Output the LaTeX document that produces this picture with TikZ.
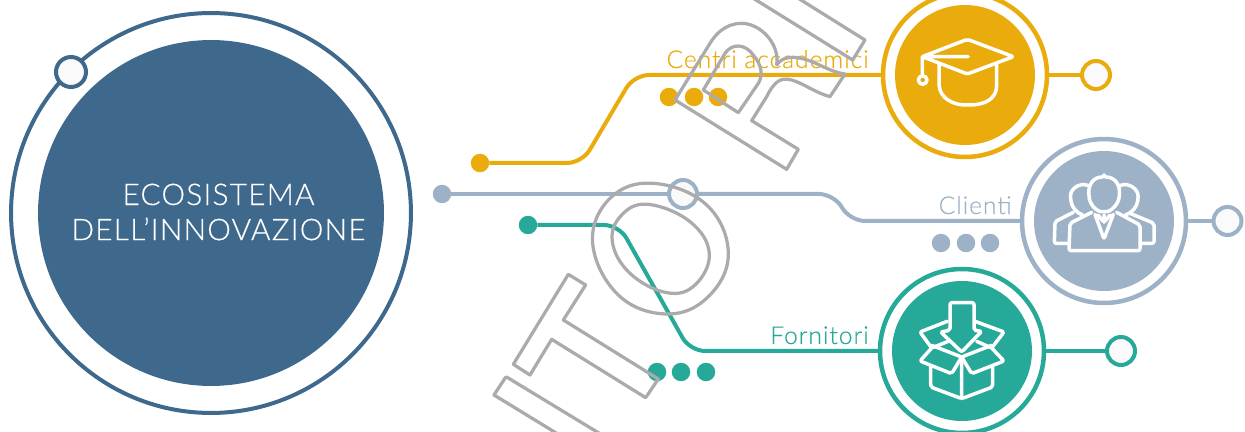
\documentclass[tikz,border=0pt]{standalone}
\usepackage{fontspec}
\setmainfont{Lato Light}[LetterSpace=4,FakeBold=.35]
\usetikzlibrary{calc}
\definecolor{hubblue}{HTML}{3E688C}
\definecolor{yellowline}{HTML}{EAAB0C}
\definecolor{greyline}{HTML}{9DB2C7}
\definecolor{tealline}{HTML}{26A998}
\definecolor{markgrey}{HTML}{ABABAD}
\definecolor{holefill}{HTML}{FAFAFA}
\tikzset{hub/.style={circle,inner sep=0,outer sep=0,minimum size=2.8cm,fill=#1},
ring/.style={circle,inner sep=0,outer sep=0,minimum size=3.28cm,draw=#1,line width=.09cm},
hole/.style={circle,inner sep=0,outer sep=0,minimum size=.56cm,draw=#1,line width=.08cm,fill=holefill},
dot/.style={circle,inner sep=0,outer sep=0,minimum size=.37cm,fill=#1},
link/.style={line width=.08cm,rounded corners=.3cm,draw=#1},
lbl/.style={text=#1,font=\fontsize{14}{16}\selectfont,inner sep=0,anchor=base east},
ico/.style={white,line width=.07cm,line join=round,line cap=round,rounded corners=.04cm},
letterline/.style={markgrey,line width=.065cm,line join=round}}
\begin{document}
\begin{tikzpicture}[x=.02cm,y=-.02cm]
\useasboundingbox (0,0) rectangle (1245,432);
\clip (0,0) rectangle (1245,432);
\node[circle,inner sep=0,outer sep=0,minimum size=8cm,draw=hubblue,line width=.08cm] (mainring) at (211,213){};
\node[circle,inner sep=0,outer sep=0,minimum size=6.92cm,fill=hubblue] (main) at (211,213){};
\node[text=white,align=center,font=\fontsize{17}{20}\selectfont,inner sep=0] (maintext) at (218.5,212){ECOSISTEMA\\DELL’INNOVAZIONE};
\node[hole=hubblue,minimum size=.6cm] (mainhole) at (71,72){};
\foreach \n/\c/\x/\y in {acad/yellowline/965/75,cli/greyline/1104/221,forn/tealline/962/351}{
\node[ring=\c] (ring\n) at (\x,\y){};\node[hub=\c] (hub\n) at (\x,\y){};}
\node[hole=yellowline] (endacad) at (1096,75){};\node[hole=greyline] (endcli) at (1227.5,221){};\node[hole=tealline] (endforn) at (1121,351){};
\node[dot=yellowline] (startacad) at (480,163){};\node[dot=greyline] (startcli) at (442,194){};\node[dot=tealline] (startforn) at (528,225){};
\node[hole=greyline] (midcli) at (683,194){};
\foreach \x in {669,694,718}{\node[dot=yellowline] (a\x) at (\x,97){};}
\foreach \x in {941,966,990}{\node[dot=greyline] (c\x) at (\x,243){};}
\foreach \x in {657,681,706}{\node[dot=tealline] (f\x) at (\x,372){};}
\coordinate (acadA) at (582,163);\coordinate (acadB) at (634,75);
\coordinate (cliA) at (834,194);\coordinate (cliB) at (850,221);
\coordinate (fornA) at (619,225);\coordinate (fornB) at (690,351);
\draw[link=yellowline] (startacad)--(acadA)--(acadB)--(ringacad);
\draw[link=yellowline] (ringacad)--(endacad);
\draw[link=greyline] (startcli)--(midcli);
\draw[link=greyline] (midcli)--(cliA)--(cliB)--(ringcli.west);
\draw[link=greyline] (ringcli)--(endcli);
\draw[link=tealline] (startforn)--(fornA)--(fornB)--(ringforn.west);
\draw[link=tealline] (ringforn)--(endforn);
\node[lbl=yellowline] (lblacad) at (869,68){Centri accademici};
\node[lbl=greyline] (lblcli) at (1012,214){Clienti};
\node[lbl=tealline] (lblforn) at (869,344){Fornitori};
% cap
\begin{scope}[shift={(880,0)},x=.00667cm,y=-.00667cm]
\draw[ico] (262,118)--(400,170)--(262,222)--(127,170)--cycle (127,170)--(265,170) (127,170)--(127,228);
\draw[ico] (128,240) circle[radius=13];
\draw[ico] (177,192)--(177,250)..controls (180,295) and (220,315)..(262,315)..controls (310,315) and (350,300)..(350,250)--(350,192);
\end{scope}
% people
\begin{scope}[shift={(1010,135)},x=.00667cm,y=-.00667cm]
\draw[ico] (282,126)..controls (315,126) and (330,150)..(328,180)..controls (326,205) and (305,230)..(282,230)..controls (258,230) and (238,205)..(237,180)..controls (235,150) and (250,126)..(282,126)--cycle;
\draw[ico] (236,152)..controls (205,140) and (180,165)..(182,190)..controls (184,215) and (200,235)..(218,240);
\draw[ico] (328,152)..controls (360,140) and (385,165)..(384,190)..controls (382,215) and (365,235)..(346,240);
\draw[ico] (245,232)--(180,265)--(177,347)--(390,347)--(390,270)--(320,232);
\draw[ico] (190,232)--(135,260)--(133,325)--(177,325) (360,235)--(432,265)--(432,325)--(390,325);
\draw[ico] (255,238)--(282,312)--(310,238) (264,240)--(282,262)--(300,240) (282,240)--(282,262);
\end{scope}
% box
\begin{scope}[shift={(870,262)},x=.00667cm,y=-.00667cm]
\draw[ico] (240,205)--(240,122)--(312,122)--(312,205)--(335,208)--(275,270)--(212,210)--cycle;
\draw[ico] (232,178)--(150,210)--(185,258)--(235,238) (315,178)--(402,210)--(365,258)--(320,238);
\draw[ico] (185,258)--(150,297)--(245,335)--(275,285)--(185,250) (365,258)--(402,297)--(305,335)--(275,285)--(365,250);
\draw[ico] (182,315)--(182,375)--(275,410)--(368,375)--(368,315) (275,285)--(275,410);
\end{scope}
% letters
\begin{scope}[shift={(480,170)},x=.00667cm,y=-.00667cm]
\draw[letterline] (78,620)--(42,675)--(230,790) (78,620)--(358,790);
\draw[letterline] (265,313)--(317,345)--(250,450)--(535,627)--(497,683)--(215,508)--(150,615)--(100,583)--cycle;
\draw[letterline] plot[smooth cycle,tension=.68] coordinates {(520,40)(680,105)(745,250)(685,380)(560,432)(415,375)(338,220)(390,85)};
\draw[letterline] plot[smooth cycle,tension=.68] coordinates {(505,103)(630,155)(688,250)(645,345)(560,368)(450,310)(397,215)(425,135)};
\end{scope}
\begin{scope}[shift={(650,0)},x=.00667cm,y=-.00667cm]
\draw[letterline] (75,300)--(410,508)--(445,448)--(305,362)--(350,290)..controls (375,240) and (395,232)..(425,240)..controls (460,250) and (500,280)..(540,290)--(585,222)..controls (530,215) and (490,175)..(430,172)..controls (405,172) and (390,180)..(380,195)..controls (390,130) and (330,70)..(275,70)..controls (225,70) and (195,105)..(180,130)--cycle;
\draw[letterline] (160,270)--(225,160)..controls (245,130) and (285,130)..(310,165)..controls (335,195) and (340,225)..(325,250)--(265,338)--cycle;
\draw[letterline] (310,-5)--(608,180)--(645,120)--(445,-5);
\end{scope}
\end{tikzpicture}
\end{document}
